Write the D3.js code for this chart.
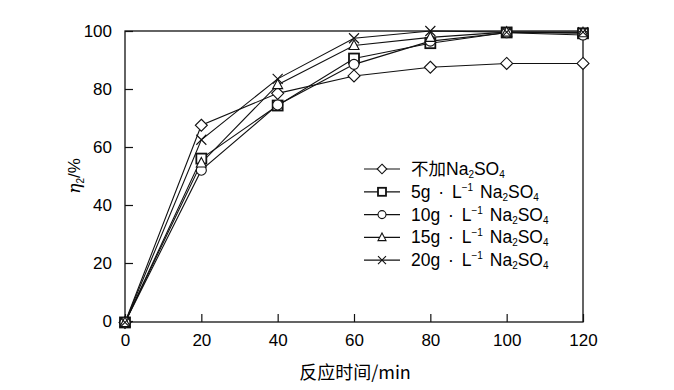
<!DOCTYPE html>
<meta charset="utf-8">
<script src="https://cdn.jsdelivr.net/npm/d3@7"></script>
<style>
    body { margin: 0; background: #fff; }
    text { font-family: "Liberation Sans", Arial, "Noto Sans CJK SC", sans-serif; fill: #000; }
    .line { fill: none; stroke: #111; stroke-width: 1.1px; }
    .mark { fill: #fff; stroke: #111; stroke-width: 1.1px; }
</style>
<body>
<script>
    // reaction time (min)
    var times = [0, 20, 40, 60, 80, 100, 120];

    // eta2 (%) for each Na2SO4 dose
    var s0 = [-0.5, 67.5, 78.5, 84.5, 87.5, 88.8, 88.8];
    var s5 = [-0.5, 56, 74.3, 90.5, 95.8, 99.5, 99.2];
    var s10 = [-0.5, 52, 74.5, 88.5, 96.5, 99.4, 98.6];
    var s15 = [-0.5, 54.5, 81.5, 95, 97.8, 99.6, 99.4];
    var s20 = [-0.5, 62.5, 83.5, 97.5, 100, 99.6, 99.6];

    var names = ["不加", "5g · L", "10g · L", "15g · L", "20g · L"];
    var xTicks = [0, 20, 40, 60, 80, 100, 120];
    var yTicks = [0, 20, 40, 60, 80, 100];

    var series = [
        { label: names[0], shape: "diamond", values: s0 },
        { label: names[1], shape: "square", values: s5 },
        { label: names[2], shape: "circle", values: s10 },
        { label: names[3], shape: "triangle", values: s15 },
        { label: names[4], shape: "cross", values: s20 }
    ];

    var width = 674, height = 390;
    var mLeft = 125, mRight = 583, mTop = 31, mBottom = 321;

    var svg = d3.select("body").append("svg")
        .attr("width", width)
        .attr("height", height);

    var x = d3.scaleLinear().domain([0, 120]).range([mLeft, mRight]);
    var y = d3.scaleLinear().domain([0, 100]).range([mBottom, mTop]);

    // frame
    svg.append("rect")
        .attr("x", mLeft).attr("y", mTop)
        .attr("width", mRight - mLeft).attr("height", mBottom - mTop + 1)
        .attr("fill", "none").attr("stroke", "#111").attr("stroke-width", 1.3);

    // axes with inward ticks
    var xAxis = svg.append("g")
        .attr("transform", "translate(0," + (mBottom + 1) + ")")
        .call(d3.axisBottom(x).tickValues(xTicks).tickSizeInner(-8).tickSizeOuter(0));
    var yAxis = svg.append("g")
        .attr("transform", "translate(" + mLeft + ",0)")
        .call(d3.axisLeft(y).tickValues(yTicks).tickSizeInner(-8).tickSizeOuter(0).tickPadding(13));

    [xAxis, yAxis].forEach(function (g) {
        g.select(".domain").remove();
        g.selectAll(".tick line").attr("stroke", "#111").attr("stroke-width", 1.2);
        g.selectAll(".tick text")
            .style("font-family", "Liberation Sans, Arial, sans-serif")
            .style("font-size", "17px")
            .attr("fill", "#111");
    });
    xAxis.selectAll(".tick text").attr("y", 12);

    // marker generator
    function drawMark(g, shape, cx, cy, s) {
        if (shape === "diamond") {
            g.append("path").attr("class", "mark")
                .attr("d", "M" + cx + "," + (cy - s * 1.2) + "L" + (cx + s * 1.2) + "," + cy +
                    "L" + cx + "," + (cy + s * 1.2) + "L" + (cx - s * 1.2) + "," + cy + "Z");
        } else if (shape === "square") {
            g.append("rect").attr("class", "mark")
                .attr("x", cx - s).attr("y", cy - s).attr("width", 2 * s).attr("height", 2 * s)
                .style("stroke-width", "1.8px");
        } else if (shape === "circle") {
            g.append("circle").attr("class", "mark").attr("cx", cx).attr("cy", cy).attr("r", s);
        } else if (shape === "triangle") {
            g.append("path").attr("class", "mark")
                .attr("d", "M" + cx + "," + (cy - s * 1.1) + "L" + (cx + s) + "," + (cy + s * 0.8) +
                    "L" + (cx - s) + "," + (cy + s * 0.8) + "Z");
        } else {
            g.append("path").attr("class", "mark").style("fill", "none")
                .attr("d", "M" + (cx - s) + "," + (cy - s) + "L" + (cx + s) + "," + (cy + s) +
                    "M" + (cx + s) + "," + (cy - s) + "L" + (cx - s) + "," + (cy + s));
        }
    }

    var line = d3.line()
        .x(function (d, i) { return x(times[i]); })
        .y(function (d) { return y(d); });

    series.forEach(function (s) {
        svg.append("path").attr("class", "line").attr("d", line(s.values));
    });
    series.forEach(function (s) {
        var g = svg.append("g");
        s.values.forEach(function (v, i) {
            drawMark(g, s.shape, x(times[i]), y(v), 5);
        });
    });

    // legend
    var legend = svg.append("g");
    var ly0 = 169, lstep = 22.8;
    series.forEach(function (s, i) {
        var ly = ly0 + i * lstep;
        legend.append("line")
            .attr("x1", 364).attr("x2", 400).attr("y1", ly).attr("y2", ly)
            .attr("stroke", "#111").attr("stroke-width", 1.2);
        drawMark(legend, s.shape, 382, ly, 4);
        var t = legend.append("text")
            .attr("x", 411).attr("y", ly + 6)
            .style("font-size", "17.5px");
        t.append("tspan").text(s.label).attr("word-spacing", "3px");
        if (i > 0) {
            t.append("tspan").text("−1").attr("dy", -7).style("font-size", "10px");
            t.append("tspan").text(" Na").attr("dy", 7).attr("word-spacing", "2px");
        } else {
            t.append("tspan").text("Na");
        }
        t.append("tspan").text("2").attr("dy", 3).style("font-size", "10px");
        t.append("tspan").text("SO").attr("dy", -3);
        t.append("tspan").text("4").attr("dy", 3).style("font-size", "10px");
    });

    // axis titles
    svg.append("text")
        .attr("x", 355).attr("y", 379)
        .attr("text-anchor", "middle")
        .style("font-size", "18px")
        .style("font-family", "Noto Sans CJK SC, sans-serif")
        .text("反应时间/min");

    var yl = svg.append("text")
        .attr("transform", "translate(80,176) rotate(-90)")
        .attr("text-anchor", "middle")
        .style("font-size", "17px");
    yl.append("tspan").text("η").style("font-style", "italic").style("font-family", "DejaVu Serif, serif");
    yl.append("tspan").text("2").attr("dy", 4).style("font-size", "10px");
    yl.append("tspan").text("/%").attr("dy", -4);
</script>
</body>
</html>
